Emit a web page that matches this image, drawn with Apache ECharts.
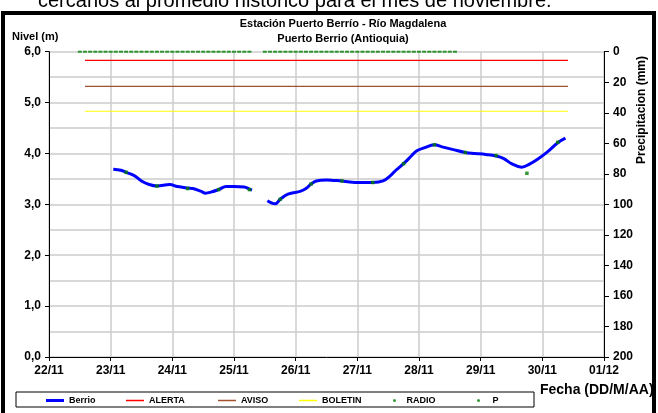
<!DOCTYPE html>
<html>
<head>
<meta charset="utf-8">
<script src="https://cdn.jsdelivr.net/npm/echarts@6/dist/echarts.min.js"></script>
<style>
  html, body { margin: 0; padding: 0; background: #fff; }
  #chart { width: 658px; height: 413px; }
</style>
</head>
<body>
<div id="chart"></div>
<script>
// tiempo en horas desde 22/11 00:00
var dayLabels = ['22/11', '23/11', '24/11', '25/11', '26/11', '27/11', '28/11', '29/11', '30/11', '01/12'];

// nivel Berrio (m), null = sin dato
var berrioTime = [25, 28, 30, 33, 36, 39, 42, 47, 50, 54, 56, 59, 61, 63, 66, 69, 72, 76, 78, 79,
                  82,
                  85, 88, 90, 93, 98, 100, 102, 104, 108, 111, 114, 117, 121, 126, 130, 133, 135, 138,
                  141, 143, 146, 150, 153, 157, 162, 166, 170, 174, 177, 180, 184, 187, 190, 194, 198, 201];
var berrioLevel = [3.69, 3.67, 3.63, 3.57, 3.46, 3.39, 3.36, 3.39, 3.35, 3.32, 3.31, 3.26, 3.22, 3.24, 3.29, 3.35, 3.35, 3.34, 3.30, 3.28,
                   null,
                   3.07, 3.01, 3.10, 3.20, 3.26, 3.31, 3.40, 3.46, 3.48, 3.47, 3.46, 3.44, 3.43, 3.43, 3.46, 3.57, 3.67, 3.80,
                   3.95, 4.05, 4.11, 4.17, 4.13, 4.08, 4.02, 4.00, 3.98, 3.95, 3.90, 3.80, 3.73, 3.79, 3.88, 4.03, 4.21, 4.30];

// lecturas por radio (m)
var radioTime = [30, 42, 54, 66, 78, 90, 102, 114, 126, 138, 150, 162, 174, 186, 198];
var radioLevel = [3.63, 3.36, 3.31, 3.29, 3.29, 3.10, 3.40, 3.46, 3.43, 3.80, 4.17, 4.02, 3.96, 3.61, 4.22];

// precipitacion (mm)
var pTime = [12, 14, 16, 18, 20, 22, 24, 26, 28, 30, 32, 34, 36, 38, 40, 42, 44, 46, 48, 50,
             52, 54, 56, 58, 60, 62, 64, 66, 68, 70, 72, 74, 76, 78,
             84, 86, 88, 90, 92, 94, 96, 98, 100, 102, 104, 106, 108, 110, 112, 114, 116, 118, 120, 122,
             124, 126, 128, 130, 132, 134, 136, 138, 140, 142, 144, 146, 148, 150, 152, 154, 156, 158];
var pValue = [0, 0, 0, 0, 0, 0, 0, 0, 0, 0, 0, 0, 0, 0, 0, 0, 0, 0, 0, 0,
              0, 0, 0, 0, 0, 0, 0, 0, 0, 0, 0, 0, 0, 0,
              0, 0, 0, 0, 0, 0, 0, 0, 0, 0, 0, 0, 0, 0, 0, 0, 0, 0, 0, 0,
              0, 0, 0, 0, 0, 0, 0, 0, 0, 0, 0, 0, 0, 0, 0, 0, 0, 0];

// umbrales (m)
var umbralTime = [14, 202];
var alerta = 5.83;
var aviso = 5.32;
var boletin = 4.83;

function pairs(xs, ys) {
    var out = [];
    for (var i = 0; i < xs.length; i++) out.push([xs[i], ys[i]]);
    return out;
}
function flat(v) {
    return [[umbralTime[0], v], [umbralTime[1], v]];
}

var FONT = 'Arial, "Liberation Sans", sans-serif';
var myChart = echarts.init(document.getElementById('chart'));

// una leyenda por item, para fijar su posicion
function legendAt(name, left, icon, w, h) {
    return {
        data: [name], left: left, top: 396, padding: 0,
        icon: icon, itemWidth: w, itemHeight: h,
        textStyle: { fontFamily: FONT, fontWeight: 'bold', fontSize: 9, color: '#000' },
        selectedMode: false
    };
}

var option = {
    backgroundColor: '#fff',
    animation: false,
    title: {
        text: 'Estación Puerto Berrío - Río Magdalena\nPuerto Berrio (Antioquia)',
        left: 343, top: 16, padding: 0, textAlign: 'center',
        textStyle: { fontFamily: FONT, fontWeight: 'bold', fontSize: 11, lineHeight: 15, color: '#000' }
    },
    legend: [
        legendAt('Berrio', 46, 'rect', 18, 3),
        legendAt('ALERTA', 126, 'rect', 18, 1.5),
        legendAt('AVISO', 218, 'rect', 18, 1.5),
        legendAt('BOLETIN', 299, 'rect', 18, 1.5),
        legendAt('RADIO', 393, 'circle', 14, 3),
        legendAt('P', 477, 'circle', 18, 3)
    ],
    grid: { left: 49, right: 54, top: 51.7, bottom: 56 },
    xAxis: {
        type: 'value', min: 0, max: 216, interval: 24,
        axisLine: { lineStyle: { color: '#000', width: 1 } },
        axisTick: { show: true, length: 4, lineStyle: { color: '#000' } },
        axisLabel: {
            margin: 8, fontFamily: FONT, fontWeight: 'bold', fontSize: 12, color: '#000',
            formatter: function (v) { return dayLabels[Math.round(v / 24)]; }
        },
        splitLine: { show: true, lineStyle: { color: '#cccccc', width: 1.5 } }
    },
    yAxis: [{
        type: 'value', min: 0, max: 6, interval: 1,
        axisLine: { show: true, lineStyle: { color: '#000', width: 1 } },
        axisTick: { show: true, length: 4, lineStyle: { color: '#000' } },
        axisLabel: {
            margin: 8, fontFamily: FONT, fontWeight: 'bold', fontSize: 12, color: '#000',
            formatter: function (v) { return v.toFixed(1).replace('.', ','); }
        },
        splitLine: { show: true, lineStyle: { color: '#cccccc', width: 1.5 } },
        minorTick: { show: false, splitNumber: 2 },
        minorSplitLine: { show: true, lineStyle: { color: '#cccccc', width: 1.5 } }
    }, {
        type: 'value', min: 0, max: 200, interval: 20, inverse: true, position: 'right',
        axisLine: { show: true, lineStyle: { color: '#000', width: 1 } },
        axisTick: { show: true, length: 5, lineStyle: { color: '#000' } },
        axisLabel: { margin: 9, fontFamily: FONT, fontWeight: 'bold', fontSize: 12, color: '#000' },
        splitLine: { show: false }
    }],
    series: [{
        name: 'Berrio', type: 'line', smooth: 0.4, symbol: 'none', connectNulls: false,
        lineStyle: { color: '#0000ff', width: 3 }, itemStyle: { color: '#0000ff' },
        data: pairs(berrioTime, berrioLevel), z: 5
    }, {
        name: 'ALERTA', type: 'line', symbol: 'none',
        lineStyle: { color: '#ff0000', width: 1.2 }, itemStyle: { color: '#ff0000' },
        data: flat(alerta)
    }, {
        name: 'AVISO', type: 'line', symbol: 'none',
        lineStyle: { color: '#a0522d', width: 1.2 }, itemStyle: { color: '#a0522d' },
        data: flat(aviso)
    }, {
        name: 'BOLETIN', type: 'line', symbol: 'none',
        lineStyle: { color: '#ffff00', width: 1.2 }, itemStyle: { color: '#ffff00' },
        data: flat(boletin)
    }, {
        name: 'RADIO', type: 'scatter', symbol: 'rect', symbolSize: 3.5,
        itemStyle: { color: '#008000' },
        data: pairs(radioTime, radioLevel), z: 6
    }, {
        name: 'P', type: 'scatter', yAxisIndex: 1, symbol: 'rect', symbolSize: [4, 2],
        itemStyle: { color: '#008000' },
        data: pairs(pTime, pValue), z: 6
    }],
    graphic: [
        { type: 'text', left: 38, top: -9,
          style: { text: 'cercanos al promedio histórico para el mes de noviembre.',
                   font: '20px ' + FONT, fill: '#000' } },
        { type: 'rect', shape: { x: 3, y: 13, width: 651, height: 410 },
          style: { fill: null, stroke: '#000', lineWidth: 4 }, silent: true },
        { type: 'text', left: 12, top: 31,
          style: { text: 'Nivel (m)', font: 'bold 11px ' + FONT, fill: '#000' } },
        { type: 'text', left: 540, top: 383,
          style: { text: 'Fecha (DD/M/AA)', font: 'bold 14px ' + FONT, fill: '#000' } },
        { type: 'text', x: 642, y: 110, rotation: Math.PI / 2,
          style: { text: 'Precipitacion (mm)', font: 'bold 12px ' + FONT, fill: '#000',
                   align: 'center', verticalAlign: 'middle' } },
        { type: 'rect', shape: { x: 16, y: 392, width: 518, height: 15 },
          style: { fill: null, stroke: '#000', lineWidth: 1 }, silent: true, z: -1 }
    ]
};

myChart.setOption(option);
</script>
</body>
</html>
